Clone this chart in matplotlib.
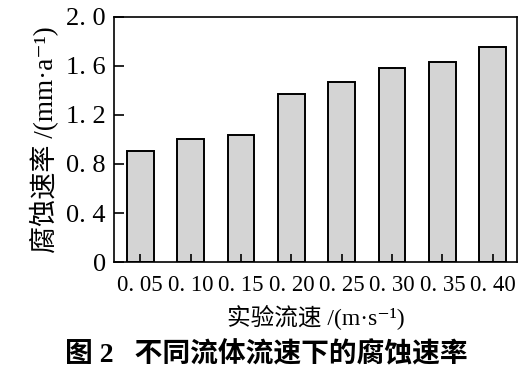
import numpy as np
import matplotlib.pyplot as plt

plt.rcParams['font.family'] = ['Liberation Serif', 'Noto Sans CJK SC', 'DejaVu Sans']

# 实验流速 (m/s) 与腐蚀速率 (mm/a)
flow = ['0. 05', '0. 10', '0. 15', '0. 20', '0. 25', '0. 30', '0. 35', '0. 40']
rate = [0.91, 1.00, 1.04, 1.37, 1.47, 1.58, 1.63, 1.755]
yticks = [0, 0.4, 0.8, 1.2, 1.6, 2.0]
ylabels = ['0', '0. 4', '0. 8', '1. 2', '1. 6', '2. 0']

fig = plt.figure(figsize=(5.32, 3.77), dpi=100)
ax = fig.add_axes([0.2143, 0.305, 0.7575, 0.65])

x = np.arange(len(flow))
ax.bar(x, rate, width=0.53, color='#d4d4d4', edgecolor='black', linewidth=1.4)

ax.set_xlim(-0.52, 7.48)
ax.set_ylim(0, 2.0)
ax.set_xticks(x)
ax.set_xticklabels(flow, fontsize=16.5)
ax.set_yticks(yticks)
ax.set_yticklabels(ylabels, fontsize=19)
ax.tick_params(axis='x', direction='in', length=5.8, width=1.2, pad=9)
ax.tick_params(axis='y', direction='in', length=7, width=1.2, pad=6)
for s in ax.spines.values():
    s.set_linewidth(1.2)

ax.set_xlabel('实验流速 /(m·s⁻¹)', fontsize=17, labelpad=6)
ax.set_ylabel('腐蚀速率 /(mm·a⁻¹)', fontsize=19.5, labelpad=5)

fig.text(0.5, 0.058, '图 2   不同流体流速下的腐蚀速率', ha='center', va='center',
         fontsize=20, fontweight='bold')

fig.savefig('out.png', dpi=100)
